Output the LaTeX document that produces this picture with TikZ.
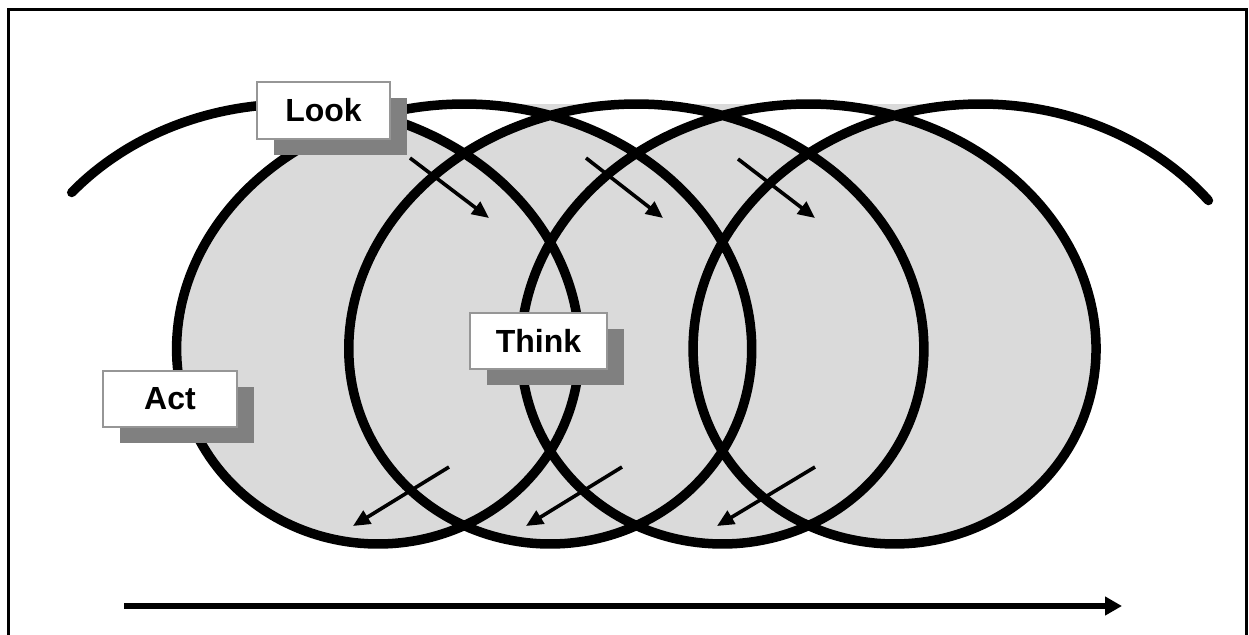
\documentclass[tikz,border=0pt]{standalone}
\usepackage{fontspec}
\setmainfont{Liberation Sans}
\usetikzlibrary{arrows.meta,shadows}
\definecolor{fillgray}{RGB}{218,218,218}
\definecolor{shadowgray}{RGB}{128,128,128}
\definecolor{edgegray}{RGB}{150,150,150}
\begin{document}
\begin{tikzpicture}[x=1pt,y=-1pt,
  coil/.style={line width=9.5pt, line cap=round, line join=round},
  lbl/.style={draw=edgegray, line width=1.5pt, fill=white, inner sep=0pt,
    font=\fontsize{32}{36}\selectfont\bfseries,
    drop shadow={fill=shadowgray, opacity=1, shadow xshift=17pt, shadow yshift=-16pt}},
  smallarrow/.style={line width=3.6pt, -{Triangle[length=17pt,width=15pt]}},
  bigarrow/.style={line width=6pt, -{Triangle[length=17pt,width=18pt]}}]
\useasboundingbox (0,0) rectangle (1249,634);
\clip (0,0) rectangle (1249,634);
\fill[white] (0,0) rectangle (1249,634);
\draw[line width=3pt] (8.5,9.5) rectangle (1246.5,660);
% gray interiors of the loops
\foreach \k in {0,1,2,3}{
  \pgfmathsetmacro\ta{\k*2*pi}
  \pgfmathsetmacro\tb{(\k+1)*2*pi}
  \fill[fillgray] plot[domain=\ta:\tb, samples=200, variable=\t]
    ({292+27.4*\t+243*sin(\t r)},{324-220*cos(\t r)}) -- cycle;
}
% the coil
\draw[coil] plot[domain=-0.93:26.12, samples=900, variable=\t]
  ({292+27.4*\t+243*sin(\t r)},{324-220*cos(\t r)});
% small arrows
\coordinate (a1s) at (410,158); \coordinate (a1e) at (489,218);
\coordinate (a2s) at (586,158); \coordinate (a2e) at (663,218);
\coordinate (a3s) at (738,159); \coordinate (a3e) at (815,218);
\coordinate (b1s) at (449,467); \coordinate (b1e) at (353,526);
\coordinate (b2s) at (622,467); \coordinate (b2e) at (526,526);
\coordinate (b3s) at (815,467); \coordinate (b3e) at (717,526);
\draw[smallarrow] (a1s) -- (a1e);
\draw[smallarrow] (a2s) -- (a2e);
\draw[smallarrow] (a3s) -- (a3e);
\draw[smallarrow] (b1s) -- (b1e);
\draw[smallarrow] (b2s) -- (b2e);
\draw[smallarrow] (b3s) -- (b3e);
% time arrow
\coordinate (ts) at (124,606); \coordinate (te) at (1122,606);
\draw[bigarrow] (ts) -- (te);
% labels
\node[lbl, minimum width=133pt, minimum height=57pt] (look) at (323.5,110.5) {Look};
\node[lbl, minimum width=137pt, minimum height=56pt] (think) at (538.5,341) {Think};
\node[lbl, minimum width=134pt, minimum height=56pt] (act) at (170,399) {Act};
\end{tikzpicture}
\end{document}
